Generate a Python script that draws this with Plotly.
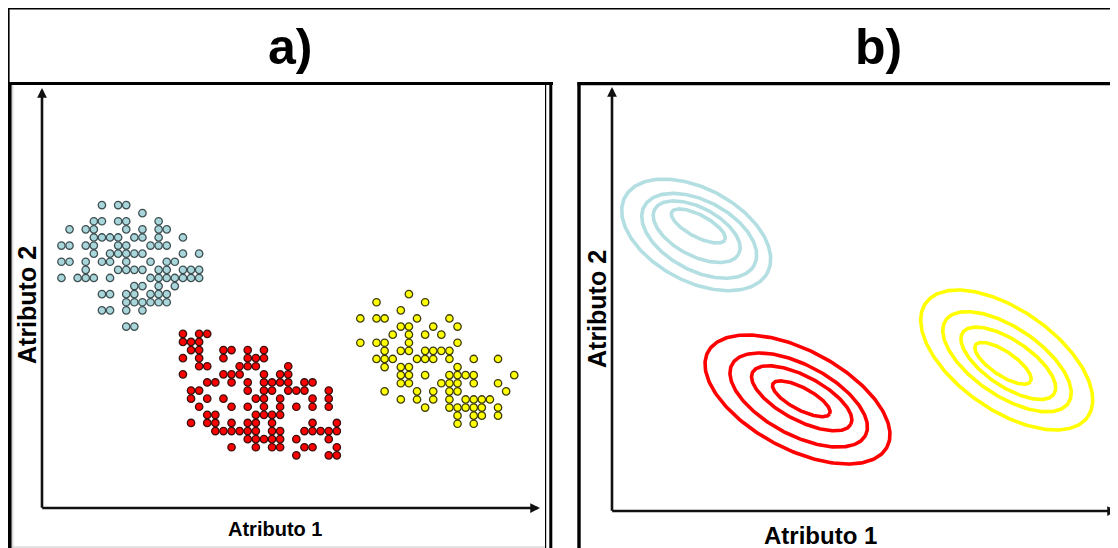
import numpy as np
import plotly.graph_objects as go

# page body adds an 8 px margin; the figure is drawn for the visible area
OFF = 8
W, H = 1118 - OFF, 548 - OFF

# ---------------- Panel a data (Atributo 1 / Atributo 2 units) ----------------
cyan_rows = [
    (37.4, [7.4, 9.4, 10.4]),
    (36.4, [12.4]),
    (35.4, [6.4, 7.4, 9.4, 10.4, 14.4]),
    (34.4, [3.4, 5.4, 6.4, 10.4, 12.4, 14.4, 15.4]),
    (33.4, [6.4, 7.4, 8.4, 9.4, 11.4, 12.4, 14.4, 17.4]),
    (32.4, [2.4, 3.4, 5.4, 6.4, 9.4, 10.4, 13.4, 14.4, 15.4]),
    (31.4, [6.4, 8.4, 9.4, 10.4, 11.4, 12.4, 17.4, 19.4]),
    (30.4, [2.4, 3.4, 5.4, 7.4, 8.4, 10.4, 13.4, 15.4, 16.4]),
    (29.4, [5.4, 9.4, 10.4, 11.4, 12.4, 14.4, 15.4, 17.4, 18.4, 19.4]),
    (28.4, [2.4, 4.4, 5.4, 6.4, 8.4, 13.4, 14.4, 15.4, 16.4, 17.4, 18.4, 19.4]),
    (27.4, [11.4, 12.4, 14.4, 16.4]),
    (26.4, [7.4, 8.4, 10.4, 11.4, 13.4, 14.4, 15.4]),
    (25.4, [10.4, 11.4, 12.4, 13.4, 14.4, 15.4]),
    (24.4, [7.4, 8.4, 10.4, 12.4]),
    (22.4, [10.4, 11.4]),
]
red_rows = [
    (21.5, [17.4, 19.4, 20.4]),
    (20.5, [17.4, 18.4, 19.4]),
    (19.5, [18.4, 19.4, 22.4, 23.4, 25.4, 27.4]),
    (18.5, [17.4, 19.4, 22.4, 25.4, 26.4, 27.4]),
    (17.5, [19.4, 20.4, 24.4, 25.4, 26.4, 30.4]),
    (16.5, [17.4, 22.4, 23.4, 24.4, 27.4, 29.4, 30.4]),
    (15.5, [20.4, 21.4, 23.4, 25.4, 27.4, 28.4, 29.4, 30.4, 32.4, 33.4]),
    (14.5, [18.4, 19.4, 25.4, 27.4, 28.4, 30.4, 31.4, 32.4, 35.4]),
    (13.5, [18.4, 20.4, 22.4, 26.4, 27.4, 29.4, 33.4, 35.4]),
    (12.5, [19.4, 23.4, 25.4, 27.4, 29.4, 31.4, 33.4, 35.4]),
    (11.5, [20.4, 21.4, 26.4, 27.4, 28.4, 29.4]),
    (10.5, [18.4, 20.4, 21.4, 23.4, 25.4, 26.4, 28.4, 33.4, 36.4]),
    (9.5, [21.4, 22.4, 23.4, 24.4, 25.4, 26.4, 28.4, 29.4, 32.4, 33.4, 34.4, 35.4, 36.4]),
    (8.5, [25.4, 26.4, 27.4, 28.4, 29.4, 31.4, 35.4]),
    (7.5, [23.4, 26.4, 28.4, 29.4, 32.4, 33.4, 36.4]),
    (6.5, [31.4, 35.4, 36.4]),
]
yellow_rows = [
    (26.4, [45.3]),
    (25.4, [41.3, 47.3]),
    (24.4, [44.3]),
    (23.4, [39.3, 41.3, 42.3, 46.3, 50.3]),
    (22.4, [44.3, 45.3, 48.3, 51.3]),
    (21.4, [43.3, 45.3, 47.3, 49.3]),
    (20.4, [39.3, 41.3, 42.3, 45.3, 51.3]),
    (19.4, [42.3, 44.3, 45.3, 47.3, 48.3, 49.3, 50.3]),
    (18.4, [41.3, 42.3, 43.3, 46.3, 47.3, 48.3, 50.3, 53.3, 56.3]),
    (17.4, [42.3, 44.3, 45.3, 51.3]),
    (16.4, [44.3, 45.3, 47.3, 50.3, 51.3, 52.3, 53.3, 58.3]),
    (15.4, [44.3, 45.3, 49.3, 50.3, 51.3, 53.3, 56.3]),
    (14.4, [42.3, 46.3, 48.3, 50.3, 51.3, 57.3]),
    (13.4, [44.3, 46.3, 48.3, 50.3, 52.3, 53.3, 54.3, 55.3]),
    (12.4, [47.3, 50.3, 51.3, 52.3, 53.3, 54.3, 56.3]),
    (11.4, [51.3, 53.3, 54.3, 56.3]),
    (10.4, [51.3, 53.3]),
]

# ---------------- Panel b data: ellipse contours (center x, center y, semi-axis a, semi-axis b, angle deg) ----------------
cyan_ell = [
    (8.42, 27.61, 8.07, 4.64, 28),
    (8.72, 27.52, 6.24, 3.48, 28),
    (8.47, 27.93, 4.76, 2.40, 28),
    (8.63, 28.50, 3.00, 1.10, 28),
]
red_ell = [
    (18.55, 11.15, 10.14, 4.93, 28),
    (18.67, 11.10, 7.56, 3.50, 28),
    (18.97, 11.27, 5.56, 2.20, 28),
    (18.93, 11.22, 3.21, 1.10, 28),
]
yellow_ell = [
    (39.47, 15.10, 9.90, 5.00, 35),
    (39.50, 14.93, 7.40, 3.40, 34),
    (39.63, 14.77, 5.50, 2.30, 34),
    (39.10, 14.77, 3.30, 1.20, 34),
]

def rows_to_xy(rows):
    xs, ys = [], []
    for y, xl in rows:
        for x in xl:
            xs.append(x)
            ys.append(y)
    return xs, ys

def ellipse(cx, cy, a, b, ang):
    t = np.linspace(0, 2 * np.pi, 240)
    th = np.deg2rad(-ang)
    x = cx + a * np.cos(t) * np.cos(th) - b * np.sin(t) * np.sin(th)
    y = cy + a * np.cos(t) * np.sin(th) + b * np.sin(t) * np.cos(th)
    return x, y

fig = go.Figure()

cluster_styles = [
    (cyan_rows, "#a9d6db", "#3f4f52"),
    (red_rows, "#ff0000", "#3a1010"),
    (yellow_rows, "#ffff00", "#3c3c10"),
]
for rows, fill, edge in cluster_styles:
    xs, ys = rows_to_xy(rows)
    fig.add_trace(go.Scatter(
        x=xs, y=ys, mode="markers", xaxis="x", yaxis="y",
        marker=dict(size=7.4, color=fill, line=dict(color=edge, width=1.3)),
        showlegend=False, hoverinfo="skip", cliponaxis=False,
    ))

for ells, col in [(cyan_ell, "#b3dfe3"), (red_ell, "#ff0000"), (yellow_ell, "#ffff00")]:
    for (cx, cy, a, b, ang) in ells:
        ex, ey = ellipse(cx, cy, a, b, ang)
        fig.add_trace(go.Scatter(
            x=ex, y=ey, mode="lines", xaxis="x2", yaxis="y2",
            line=dict(color=col, width=3.6),
            showlegend=False, hoverinfo="skip", cliponaxis=False,
        ))

def px(x):
    return (x - OFF) / W

def py(y):
    return 1 - (y - OFF) / H

# axes geometry (screen pixels)
ax_a = dict(x0=42, y0=508, x1=540, y1=88, unit=8.1)
ax_b = dict(x0=612, y0=511, x1=1117, y1=87, unit=10.0)

axis_common = dict(visible=False, showgrid=False, zeroline=False, fixedrange=True)
fig.update_layout(
    width=W, height=H,
    margin=dict(l=0, r=0, t=0, b=0),
    paper_bgcolor="white", plot_bgcolor="rgba(0,0,0,0)",
    xaxis=dict(domain=[px(ax_a["x0"]), px(ax_a["x1"])],
               range=[0, (ax_a["x1"] - ax_a["x0"]) / ax_a["unit"]], **axis_common),
    yaxis=dict(domain=[py(ax_a["y0"]), py(ax_a["y1"])],
               range=[0, (ax_a["y0"] - ax_a["y1"]) / ax_a["unit"]], **axis_common),
    xaxis2=dict(domain=[px(ax_b["x0"]), min(1, px(ax_b["x1"]))],
                range=[0, (ax_b["x1"] - ax_b["x0"]) / ax_b["unit"]], anchor="y2", **axis_common),
    yaxis2=dict(domain=[py(ax_b["y0"]), py(ax_b["y1"])],
                range=[0, (ax_b["y0"] - ax_b["y1"]) / ax_b["unit"]], anchor="x2", **axis_common),
)

shapes = []
def hline(x0, x1, y, w, color="black"):
    shapes.append(dict(type="line", xref="paper", yref="paper", x0=px(x0), x1=px(x1),
                       y0=py(y), y1=py(y), line=dict(color=color, width=w)))
def vline(x, y0, y1, w, color="black"):
    shapes.append(dict(type="line", xref="paper", yref="paper", x0=px(x), x1=px(x),
                       y0=py(y0), y1=py(y1), line=dict(color=color, width=w)))

# outer title box
hline(7.5, 1130, 8.6, 2)
vline(8.6, 7.5, 84, 2)
# panel a frame
hline(7.5, 553, 83.6, 3)
vline(9.6, 82, 560, 4)
vline(12.8, 85, 560, 1, "#c8c8c8")
vline(545.6, 85, 560, 1.2)
vline(550.8, 82, 560, 3)
hline(12, 545, 547, 1, "#c8c8c8")
# panel b frame
hline(577.5, 1130, 83.6, 3.4)
vline(579, 82, 560, 3.4)
fig.update_layout(shapes=shapes)

ann = []
def arrow(x_tip, y_tip, x_start, y_start):
    ann.append(dict(xref="paper", yref="paper", x=px(x_tip), y=py(y_tip),
                    ax=x_start - x_tip, ay=y_start - y_tip, axref="pixel", ayref="pixel",
                    text="", showarrow=True, arrowhead=2, arrowsize=0.75, arrowwidth=2.6,
                    arrowcolor="#111111", standoff=0, startstandoff=0))

arrow(ax_a["x1"], ax_a["y0"], ax_a["x0"] - 1.3, ax_a["y0"])
arrow(ax_a["x0"], ax_a["y1"], ax_a["x0"], ax_a["y0"] + 1.3)
arrow(ax_b["x1"], ax_b["y0"], ax_b["x0"] - 1.3, ax_b["y0"])
arrow(ax_b["x0"], ax_b["y1"], ax_b["x0"], ax_b["y0"] + 1.3)

narrow = "Liberation Sans Narrow, Arial Narrow, Liberation Sans, Arial, sans-serif"
regular = "Liberation Sans, Arial, sans-serif"

def label(text, x, y, size, family, angle=0):
    ann.append(dict(xref="paper", yref="paper", x=px(x), y=py(y), text=text,
                    showarrow=False, xanchor="center", yanchor="middle", textangle=angle,
                    font=dict(family=family, size=size, color="black")))

label("<b>a)</b>", 290, 47, 50, narrow)
label("<b>b)</b>", 878, 47, 50, narrow)
label("<b>Atributo 1</b>", 275, 529, 20, narrow)
label("<b>Atributo 2</b>", 27, 305, 25, regular, -90)
label("<b>Atributo 1</b>", 820, 535, 24, regular)
label("<b>Atributo 2</b>", 597, 309, 25, regular, -90)

fig.update_layout(annotations=ann)

fig.write_html("out.html")
